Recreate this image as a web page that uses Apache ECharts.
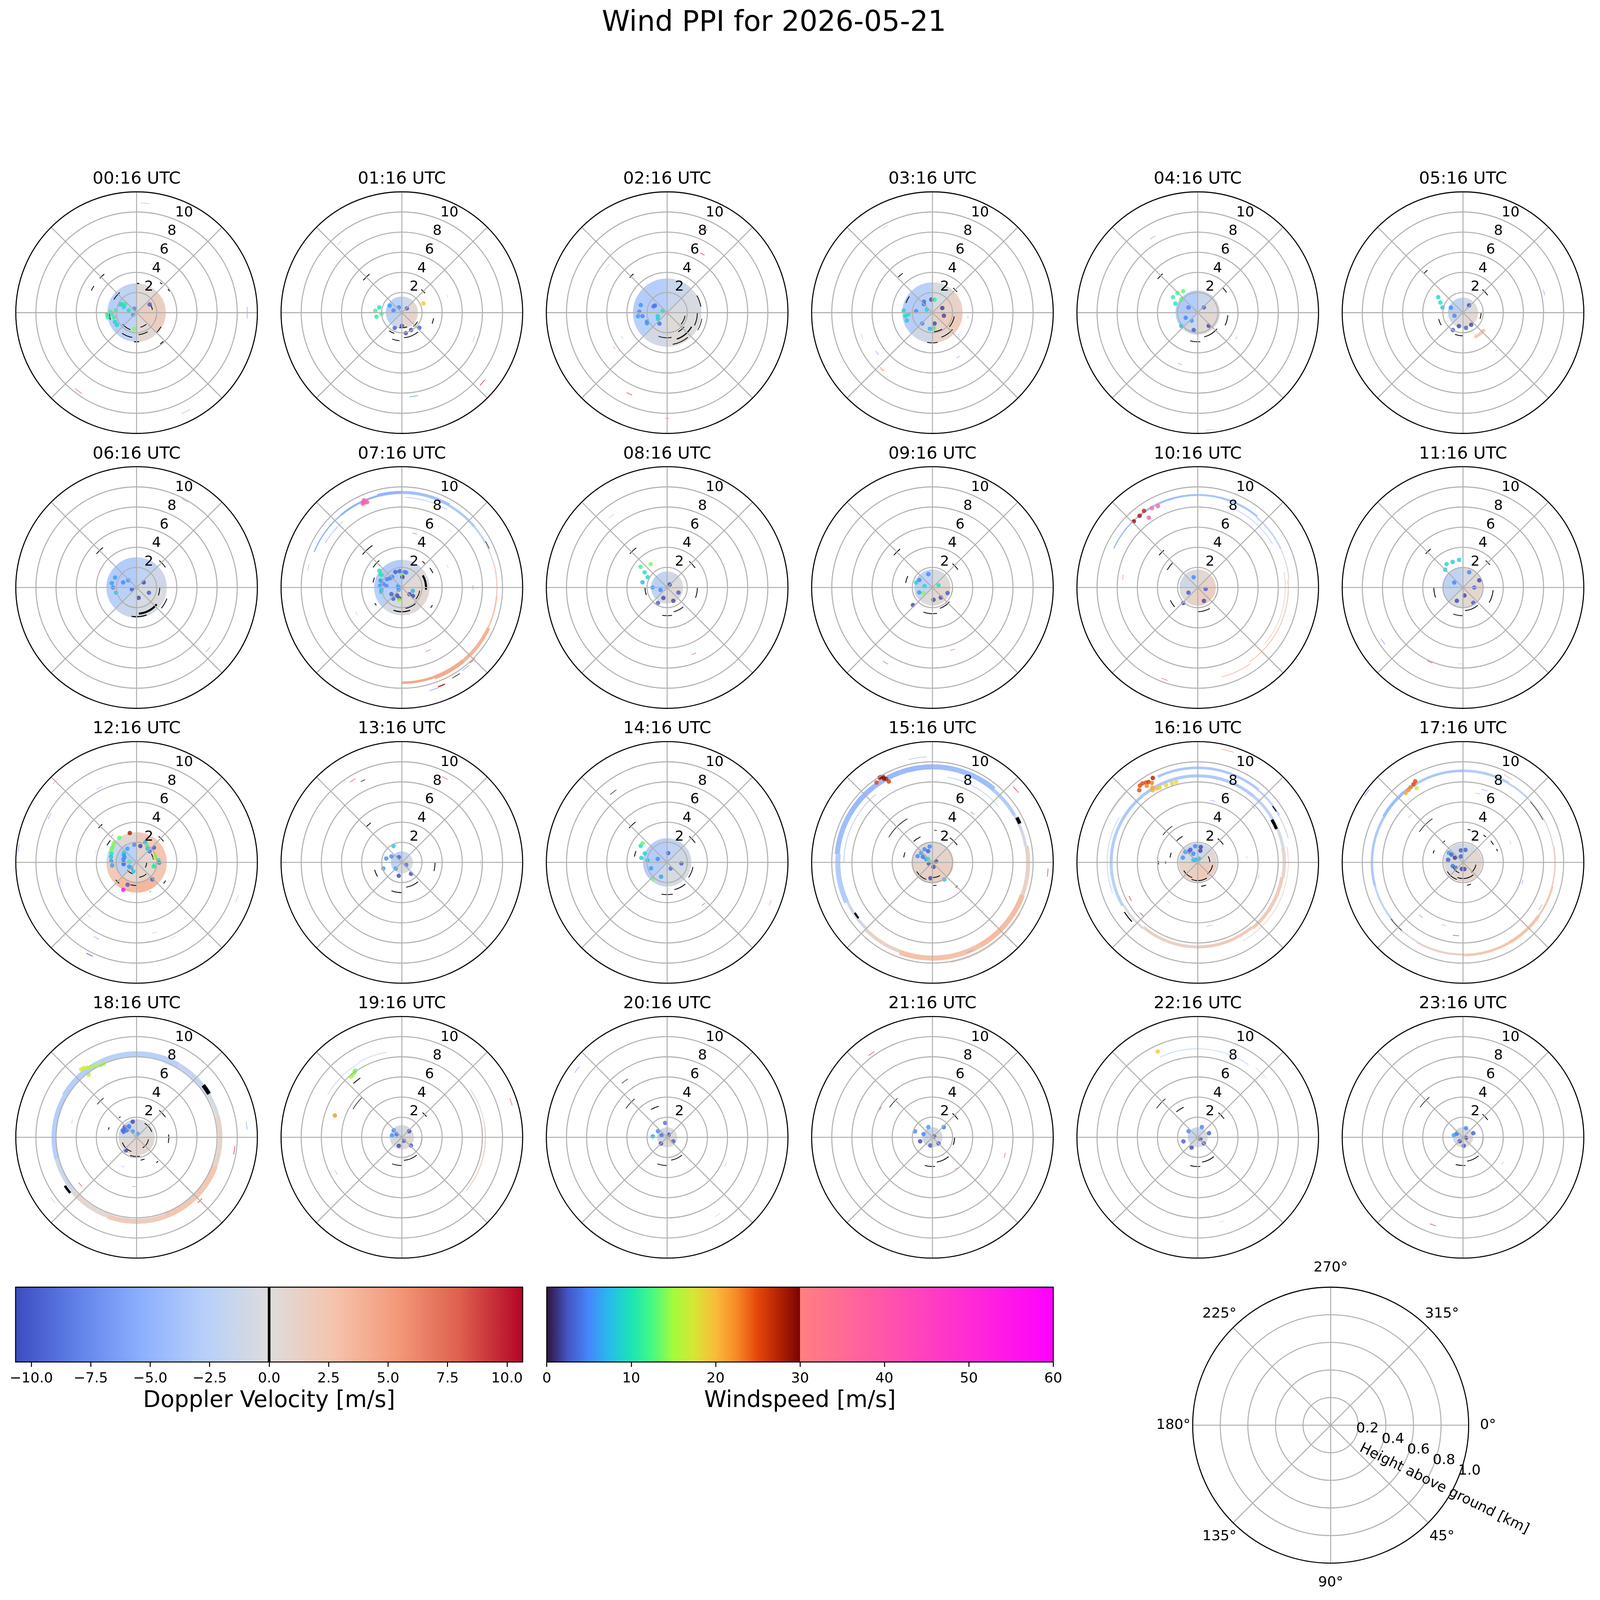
<!DOCTYPE html>
<html><head><meta charset="utf-8"><title>Wind PPI</title>
<script src="https://cdn.jsdelivr.net/npm/echarts@6.0.0/dist/echarts.min.js"></script>
<style>html,body{margin:0;padding:0;background:#fff;overflow:hidden;}#chart{width:100vw;height:100vh;}</style>
</head><body><div id="chart"></div>
<script>
// ---------------- DATA ----------------
const times = ['00:16','01:16','02:16','03:16','04:16','05:16','06:16','07:16','08:16','09:16','10:16','11:16',
  '12:16','13:16','14:16','15:16','16:16','17:16','18:16','19:16','20:16','21:16','22:16','23:16'];
const radialTicks = [2, 4, 6, 8, 10];
const refRadialTicks = [0.2, 0.4, 0.6, 0.8, 1.0];
const refAngleTicks = [0, 45, 90, 135, 180, 225, 270, 315];
const dopplerTicks = [-10, -7.5, -5, -2.5, 0, 2.5, 5, 7.5, 10];
const windTicks = [0, 10, 20, 30, 40, 50, 60];
const V_LIM = 10.66;

// core bands: [r0, r1, v(0-45), v(45-90), v(90-135), v(135-180), v(180-225), v(225-270), v(270-315), v(315-360)]
const coreBands = [
  [[0, 2.9, 0.3, 1.5, 1.5, 0.5, -2.0, -2.8, -2.8, -2.0]],
  [[0, 1.6, -1, 0.5, 1, 0.5, -1, -2.5, -3, -2.5]],
  [[0, 3.4, -1.5, -0.5, 0, 0.2, -0.8, -2.5, -3, -2.8]],
  [[0, 3.0, -0.5, 1.2, 1.8, 1.0, -1.0, -2.8, -3.0, -2.5]],
  [[0, 2.2, -1.5, 0, 0.5, 0.2, -1.0, -2.5, -3.2, -3.0]],
  [[0, 1.5, -1, 0, 0.5, 0.5, 0, -1.5, -2.5, -2]],
  [[0, 3.0, -2.0, -1.0, -0.3, -0.5, -1.5, -2.5, -3.0, -3.0]],
  [[0, 2.75, -1.0, 0.2, 0.5, 0.3, -0.5, -2.5, -3.0, -3.0]],
  [[0, 1.6, -1, 0, 0.5, 0.3, -0.5, -2, -2.5, -2]],
  [[0, 1.8, -0.5, 0.2, 0.8, 0.5, 0, -1.5, -2.5, -2.0]],
  [[0, 1.8, 0.5, 1, 1.5, 1.5, 1.0, 0, -1, -0.5]],
  [[0, 2.0, -0.5, 0.3, 0.8, 0.5, 0, -1.5, -2.3, -2]],
  [[0, 1.9, 1.0, 0.5, 0.5, 1.0, 0.8, -2.5, -3.0, -2.5], [1.9, 3.0, 2.0, 2.5, 2.3, 3.5, 3.2, 2.0, -1.0, 0.5]],
  [[0, 1.1, -1.5, -0.5, 0, 0, -0.5, -2, -2.5, -2.5]],
  [[0, 2.4, -2, -1, -0.5, -0.5, -1.5, -2.8, -3, -2.8]],
  [[0, 2.1, 0.5, 1.0, 1.5, 1.5, 1.2, 1.0, 0.3, -0.5]],
  [[0, 1.9, -1, 0.5, 1.5, 2, 1.5, 1, -0.5, -1.5]],
  [[0, 1.9, -0.5, 0.5, 0.8, 0.8, 0.5, 0, -0.5, -1]],
  [[0, 1.8, -0.5, 0, 0.5, 0.8, 0.5, 0.2, -0.8, -1]],
  [[0, 1.2, -0.5, 0, 0.3, 0.3, 0, -0.5, -1.5, -1]],
  [[0, 1.0, -0.5, 0, 0.3, 0.2, 0, -0.5, -1, -1]],
  [[0, 1.0, -1, -0.5, 0, 0, -0.5, -1, -1.5, -1.5]],
  [[0, 1.0, -1, -0.5, 0, 0, -0.5, -1, -1.5, -1.5]],
  [[0, 1.0, -0.5, 0, 0.3, 0.3, 0, -0.5, -1, -1]]
];

// Doppler arcs: [height km, azimuth start, azimuth end, velocity m/s, thickness km]
const ringArcs = [
  [[10.9,2,7,2.5,0.06],[11.0,87,93,-5,0.06],[9.7,214,219,6.5,0.06],[11.0,151,156,3,0.06],[5.0,16,20,-1,0.05]],
  [[10.6,129,133,9,0.06],[8.4,169,175,-6.5,0.06],[4.8,68,72,1,0.05],[9.3,316,320,-3,0.05],[7.6,108,112,4,0.05]],
  [[9.1,22,26,9,0.06],[6.8,29,33,8.5,0.06],[7.5,305,310,-3,0.05],[5.1,239,243,-3,0.05],[6.3,235,238,5,0.05],[8.9,203,207,8,0.06],[10.5,179,181,7,0.05],[4.1,136,140,3,0.05]],
  [[9.7,329,333,2.5,0.05],[6.4,313,316,2,0.05],[7.4,249,254,-3,0.05],[6.8,232,236,-6,0.05],[7.5,219,226,3,0.08],[7.6,220,223,7,0.04],[5.1,148,152,-6.5,0.05],[3.55,95,99,-5.5,0.05],[3.4,128,132,-5,0.05],[7.4,178,181,2,0.04]],
  [[8.7,327,331,-6,0.05],[5.4,197,201,7,0.05],[11.7,172,176,-3,0.05],[4.6,121,125,-5,0.05]],
  [[2.7,128,155,2.0,0.3],[8.3,74,78,-6,0.05],[5.0,137,140,5,0.05]],
  [[9.9,27,31,-6,0.05],[6.0,138,142,8,0.05],[9.4,129,133,-6,0.05]],
  [[9.4,292,320,-5.2,0.12],[9.4,320,345,-5.0,0.2],[9.45,345,360,-5.0,0.3],[9.45,0,30,-4.0,0.3],[9.4,30,50,-3.2,0.25],[9.4,50,62,-2.0,0.2],[9.4,62,75,-0.8,0.12],[9.45,75,95,1.5,0.12],[9.45,95,115,2.8,0.15],[9.5,115,140,3.8,0.35],[9.5,140,160,4.3,0.4],[9.45,160,180,4.5,0.25],[8.95,2,30,-4.0,0.06],[8.8,300,318,-4.5,0.06],[10.5,156,160,9.5,0.12],[10.6,160,165,-6,0.06],[10.2,139,144,-7,0.05],[10.1,134,138,9.5,0.05],[7.4,38,42,2,0.05],[5.5,11,16,-7.5,0.05],[9.5,280,284,-3.5,0.05],[6.1,270,274,-4,0.05],[5.2,238,242,-4,0.05],[5.0,63,67,-3,0.05],[7.06,88,92,-6,0.05],[6.8,155,160,7,0.05]],
  [[7.1,156,160,8,0.05],[9.0,320,324,-3,0.05]],
  [[8.8,210,214,-7,0.05],[6.5,160,164,8,0.05]],
  [[9.2,295,320,-4.5,0.12],[9.2,320,360,-4.0,0.2],[9.2,0,40,-3.5,0.2],[9.1,40,65,-2.0,0.15],[9.1,65,85,-0.5,0.1],[9.0,85,115,1.5,0.1],[9.0,115,145,3.0,0.08],[9.2,145,165,4.0,0.06],[8.6,20,60,-3,0.06],[8.7,80,130,2,0.06],[9.7,198,202,7,0.05],[7.5,276,280,6,0.05],[11.5,133,137,3,0.05]],
  [[9.6,234,238,-6.5,0.05],[8.1,202,206,8,0.05],[7.6,180,184,2,0.05]],
  [[2.05,240,330,-4,0.15],[11.4,313,317,3,0.06],[8.3,331,336,-4,0.05],[9.8,296,300,-6,0.05],[11.8,275,279,-7,0.05],[5.8,281,285,2,0.05],[7.8,255,259,-5.5,0.05],[3.6,316,320,8,0.05],[3.2,153,157,9,0.05],[7.1,220,224,3,0.05],[8.5,206,210,-6.5,0.05],[10.3,205,209,-10,0.06],[7.2,164,168,2.5,0.05],[8.3,152,156,1.5,0.05],[10.6,108,112,-3,0.05],[4.2,283,287,-3,0.04]],
  [[9.5,327,331,8,0.05],[9.4,25,29,8,0.05],[7.8,88,92,-3,0.05]],
  [[5.5,137,141,8,0.05],[11.0,110,113,6,0.04],[8.0,232,235,-4,0.04]],
  [[9.5,300,340,-4.5,0.5],[9.5,340,360,-4.5,0.5],[9.5,0,40,-4.2,0.5],[9.4,40,60,-3.0,0.35],[9.4,60,80,-0.8,0.3],[9.5,80,110,1.2,0.4],[9.5,110,150,3.2,0.5],[9.5,150,200,2.8,0.5],[9.4,200,225,1.2,0.35],[9.3,225,245,-1.0,0.3],[9.4,245,275,-3.0,0.5],[9.5,275,300,-4.2,0.5],[8.6,10,50,-3.5,0.06],[8.8,270,320,-4,0.06],[10.1,120,170,3,0.06],[10.5,347,357,-4,0.06],[11.0,47,51,9.5,0.05],[6.3,37,41,8,0.05],[11.5,93,97,9.5,0.05],[9.6,155,159,-7,0.05],[6.4,40,44,-0.5,0.04]],
  [[9.4,335,360,-3.5,0.25],[9.4,0,40,-3.3,0.25],[9.35,40,60,-2.2,0.2],[9.3,60,75,-1.0,0.1],[8.6,300,340,-3.3,0.3],[8.6,340,360,-3.3,0.3],[8.6,0,40,-3.2,0.3],[8.6,40,60,-2.0,0.3],[8.6,60,80,-0.5,0.3],[8.6,80,100,0.6,0.35],[8.5,100,140,1.8,0.35],[8.4,140,180,2.0,0.3],[8.4,180,220,1.2,0.3],[8.5,220,240,0,0.25],[8.6,240,270,-2.5,0.3],[8.6,270,300,-3.0,0.3],[9.0,250,300,-3,0.06],[9.9,300,315,-3,0.05],[9.0,80,150,1.5,0.06],[11.5,12,18,6,0.05],[7.6,240,244,10,0.05],[7.6,225,229,10,0.05],[6.3,11,16,-6,0.04],[7.8,43,47,-8,0.04],[4.9,214,219,-5,0.04],[6.4,167,172,-5.5,0.04],[4.9,82,86,-4,0.04],[6.2,101,105,-5,0.04],[4.1,93,97,1.5,0.04]],
  [[9.1,300,330,-4.3,0.3],[9.1,330,360,-3.5,0.25],[9.1,0,30,-3.0,0.25],[9.05,30,45,-2.0,0.2],[9.05,45,60,-1.0,0.15],[9.1,60,80,0.4,0.12],[9.15,80,105,1.5,0.15],[9.2,105,125,2.2,0.2],[9.2,125,150,2.8,0.3],[9.2,150,180,2.3,0.25],[9.15,180,210,1.2,0.2],[9.1,210,230,0.0,0.15],[9.05,230,255,-1.8,0.2],[9.05,255,300,-3.3,0.25],[9.6,25,31,4,0.05],[7.5,14,19,-7,0.04],[7.0,10,14,-5.5,0.04],[11.8,304,308,-8,0.05],[7.0,309,313,6,0.04],[5.1,65,69,6,0.04],[6.2,106,110,-7,0.04],[8.9,118,122,-7,0.04],[6.8,216,220,-8,0.04],[6.5,195,199,-5,0.04],[7.3,183,188,9,0.05]],
  [[8.3,330,360,-2.5,0.5],[8.3,0,30,-2.5,0.5],[8.3,30,60,-1.8,0.45],[8.3,60,75,-0.5,0.4],[8.3,75,110,1.0,0.45],[8.3,110,160,2.3,0.55],[8.35,160,200,1.8,0.5],[8.3,200,230,0.5,0.45],[8.2,230,255,-1.2,0.45],[8.2,255,300,-2.8,0.5],[8.3,300,330,-2.8,0.5],[7.9,20,50,-2,0.05],[9.8,95,100,10,0.05],[8.9,133,137,10,0.05],[7.3,228,232,8.5,0.05],[4.0,127,133,8,0.04],[4.9,181,185,8,0.04],[11.0,82,86,-6,0.05],[10.4,231,235,-3,0.05],[6.6,282,286,-4,0.04],[3.2,203,207,-7,0.04]],
  [[8.3,55,80,0.5,0.08],[8.3,80,110,1.5,0.1],[8.3,110,130,2.0,0.08],[8.5,300,330,-2.5,0.06],[8.6,330,350,-2.8,0.06],[11.4,70,74,8,0.05],[7.4,240,244,-6,0.04],[10.0,146,150,-3,0.04]],
  [[11.2,305,309,-6,0.05],[6.4,113,117,5,0.04],[9.2,145,149,-2,0.04]],
  [[10.3,322,326,9,0.05],[5.9,297,301,9,0.04],[3.9,141,145,8,0.04],[8.0,210,214,9,0.04],[7.4,102,106,9,0.04]],
  [[8.8,335,360,-3,0.06],[8.8,0,35,-2.5,0.06],[9.0,40,50,-1,0.05],[11.6,110,114,-4,0.04],[8.7,162,166,-2,0.04],[8.0,234,238,6,0.04]],
  [[9.2,197,201,9,0.05],[5.9,149,153,-6,0.04],[7.2,316,320,-3,0.04],[4.7,121,125,-5,0.04]]
];

// masked (black) arcs: [height km, azimuth start, azimuth end, thickness km]
const blackArcs = [
  [[5.0,313,320,0.08],[5.0,296,302,0.08],[2.9,0,5,0.1],[3.8,38,42,0.08],[3.9,53,57,0.08],[3.9,137,143,0.08],[2.2,150,175,0.08],[2.5,190,215,0.08],[1.8,200,230,0.08],[2.8,120,135,0.08],[2.0,100,115,0.08],[2.6,300,320,0.08],[1.6,60,80,0.08],[2.9,175,185,0.1],[2.7,255,270,0.08],[1.5,140,165,0.08]],
  [[2.5,140,175,0.08],[2.8,185,200,0.08],[1.8,120,140,0.08],[3.2,100,110,0.08],[2.2,200,215,0.08],[5.0,310,320,0.08],[3.0,40,50,0.08],[1.5,160,190,0.08]],
  [[5.1,313,319,0.08],[2.8,120,160,0.12],[3.2,140,170,0.08],[2.5,170,200,0.08],[3.0,90,115,0.08],[3.4,60,80,0.08],[2.2,130,150,0.08],[1.8,100,130,0.08],[2.0,160,185,0.08],[3.5,100,120,0.06]],
  [[4.9,316,323,0.08],[3.2,40,50,0.08],[2.6,130,160,0.08],[3.0,170,190,0.08],[2.2,100,130,0.08],[2.8,290,305,0.08],[1.9,150,175,0.08]],
  [[2.5,130,165,0.08],[2.9,175,195,0.08],[3.0,95,115,0.08],[3.5,45,55,0.08],[5.2,310,318,0.08],[2.0,200,220,0.08]],
  [[2.0,150,175,0.08],[1.8,90,110,0.08],[3.0,40,55,0.08],[2.5,240,255,0.08],[5.5,315,320,0.08],[2.3,180,200,0.08]],
  [[2.6,130,175,0.2],[2.9,160,190,0.1],[3.2,110,130,0.08],[2.3,90,110,0.08],[5.2,310,320,0.08],[3.5,40,55,0.08],[2.0,180,210,0.08]],
  [[5.1,310,325,0.08],[3.5,305,320,0.08],[2.9,280,290,0.08],[3.1,235,240,0.08],[2.4,60,95,0.2],[3.3,38,44,0.08],[3.4,55,65,0.08],[3.5,120,125,0.08],[2.4,160,200,0.1],[2.1,140,170,0.08],[10.3,146,151,0.05],[9.5,61,66,0.05],[1.8,100,130,0.08]],
  [[5.0,312,322,0.08],[2.5,140,165,0.08],[2.8,170,190,0.08],[3.0,90,110,0.08],[3.4,40,55,0.08],[2.2,250,270,0.08],[8.0,318,322,0.05]],
  [[2.2,130,160,0.08],[2.6,170,200,0.08],[3.1,40,55,0.08],[5.0,310,320,0.08],[2.7,280,295,0.08],[2.0,90,110,0.08]],
  [[3.5,300,315,0.08],[2.4,150,180,0.08],[2.0,90,120,0.08],[5.0,310,318,0.08],[3.0,230,245,0.08]],
  [[2.3,140,175,0.08],[2.8,180,200,0.08],[3.0,95,120,0.08],[5.0,312,320,0.08],[2.9,250,270,0.08],[3.5,40,50,0.08]],
  [[5.1,312,318,0.08],[3.4,300,310,0.08],[3.4,40,52,0.08],[3.4,122,128,0.08],[2.7,220,230,0.08],[1.5,140,170,0.08],[1.2,200,230,0.08],[1.0,90,120,0.08],[1.7,60,80,0.08],[2.3,180,195,0.08]],
  [[2.5,140,170,0.08],[3.0,180,200,0.08],[3.3,90,105,0.08],[5.0,315,322,0.08],[2.8,240,255,0.08],[9.0,333,336,0.05]],
  [[2.8,140,165,0.08],[3.2,170,190,0.08],[2.6,100,125,0.08],[5.1,312,322,0.08],[3.4,40,55,0.08],[3.3,280,290,0.08],[8.8,320,325,0.05]],
  [[9.5,62,66,0.35],[9.2,233,237,0.2],[5.0,300,330,0.06],[2.9,280,290,0.08],[2.8,318,335,0.08],[3.0,35,55,0.08],[3.4,133,137,0.08],[2.3,170,178,0.08],[3.2,3,8,0.06],[1.8,200,240,0.08],[2.0,100,130,0.08],[1.5,150,180,0.08]],
  [[8.5,60,67,0.3],[9.3,53,57,0.1],[8.8,228,236,0.1],[4.4,308,325,0.06],[3.0,315,330,0.08],[2.8,280,290,0.08],[3.2,268,272,0.08],[3.9,267,272,0.08],[3.1,40,55,0.08],[2.4,160,172,0.08],[1.5,100,140,0.08],[1.8,150,200,0.08],[1.2,60,90,0.08],[1.6,200,240,0.08]],
  [[5.3,305,325,0.06],[2.8,313,320,0.08],[3.1,287,293,0.08],[3.3,8,13,0.08],[3.4,37,42,0.08],[3.5,52,60,0.08],[3.6,68,72,0.08],[2.3,160,170,0.08],[9.0,48,62,0.05],[9.1,222,232,0.05],[1.6,140,200,0.08],[1.3,100,140,0.08],[1.8,200,240,0.08],[1.1,200,250,0.08]],
  [[8.4,52,59,0.4],[8.6,230,236,0.25],[5.1,310,320,0.06],[2.9,285,290,0.08],[2.6,318,322,0.08],[3.5,40,55,0.08],[3.2,85,100,0.08],[2.3,160,170,0.08],[3.2,138,142,0.08],[1.5,200,250,0.08],[1.2,100,150,0.08],[1.6,30,70,0.08],[1.9,170,200,0.08]],
  [[2.3,140,175,0.08],[2.8,180,200,0.08],[2.0,90,110,0.08],[5.6,300,315,0.06],[3.2,40,50,0.08],[7.2,318,325,0.08]],
  [[5.0,305,320,0.06],[3.2,330,345,0.08],[2.3,140,170,0.08],[2.8,180,200,0.08],[2.0,95,115,0.08],[7.0,320,326,0.05]],
  [[5.2,305,318,0.06],[2.5,140,170,0.08],[2.9,175,195,0.08],[3.1,40,55,0.08],[2.2,90,110,0.08]],
  [[5.0,305,320,0.06],[3.3,320,335,0.08],[2.5,140,170,0.08],[2.9,175,195,0.08],[3.2,40,55,0.08]],
  [[5.2,305,320,0.06],[2.4,140,170,0.08],[2.8,175,195,0.08],[3.0,40,55,0.08],[2.0,90,110,0.08]]
];

// windspeed dots: [height km, azimuth, windspeed m/s]
const windDots = [
  [[1.44,308,11],[1.39,294,9],[1.84,296,9],[2.08,276,12],[2.51,268,11],[2.94,267,11],[2.89,261,11],[2.29,259,12],[2.34,247,9],[2.3,238,9],[0.81,286,10],[0.45,330,5],[0.4,240,6],[1.53,58,3],[1.63,189,14],[2.6,272,12],[1.7,300,10]],
  [[2.65,274,12],[2.55,261,11],[2.3,283,10],[2.03,267,12],[1.4,300,6],[0.85,284,5],[0.6,330,5],[0.65,50,3],[2.33,67,19],[1.32,180,2],[1.95,152,2],[2.3,131,3],[1.68,205,3],[2.07,169,2]],
  [[2.77,272,5],[2.73,286,5.5],[2.27,242,6],[2.2,246,6],[1.5,294,5],[1.4,300,4],[1.1,236,9],[1.0,250,9],[0.48,288,10],[2.92,263,6],[2.47,262,5],[1.33,215,4]],
  [[2.86,274,9],[2.7,263,9],[2.66,253,8],[2.4,266,10],[1.63,275,5],[1.38,322,4],[1.2,315,4],[0.63,299,9],[1.31,9.5,11],[1.3,355,2],[1.08,65,1.5],[1.18,105,2],[1.1,169,2],[1.54,175,12],[1.62,189,7],[1.48,223,5]],
  [[2.9,302,11],[2.8,314,12],[2.1,309,13],[2.4,292,10],[2.57,326,13],[1.3,247,5],[1.0,217,6],[1.05,299,5],[0.8,50,3],[1.7,140,2],[1.78,193,3],[2.1,231,8]],
  [[2.9,302,9],[2.46,294,10],[2.1,284,8],[1.3,292,5],[0.9,250,5],[1.4,197,2],[1.55,169,3],[1.46,146,2],[2.0,210,3],[0.94,40,2]],
  [[2.36,295,6],[2.34,270,5],[2.1,256,8],[1.43,291,5],[1.1,311,6],[0.5,250,3],[0.87,54,2],[1.04,169,2],[1.33,113,3],[2.5,280,6]],
  [[9.32,335.7,38],[9.21,337,37],[9.45,336.5,38],[9.18,335,39],[9.16,337.9,36],[2.79,306.8,10],[2.48,301.8,10],[2.35,302,11],[2.22,287.9,5.5],[2.17,275,6],[2.04,264,7],[2.1,258,8],[1.89,281.6,5],[1.55,276,5],[1.69,299.4,5],[1.5,308,5],[1.41,317.6,5],[1.67,337.4,3],[1.64,352.7,3],[1.56,10,4.5],[1.55,16,4.5],[1.22,3,15],[1.04,3,1.5],[0.35,270,5],[0.38,235,6],[0.4,290,6.5],[1.23,237.6,3],[0.92,210.7,2],[1.4,217.4,3],[1.1,193,2],[1.29,191.6,15],[1.0,131.7,2],[1.38,127.6,2],[1.14,107.3,7]],
  [[3.35,308,12],[2.7,304,10],[2.2,298,9],[2.85,325,14],[2.5,282,7],[1.45,270,6],[0.7,250,5],[0.4,40,2],[1.1,200,2],[1.45,155,2],[1.23,114,3],[1.78,211,3]],
  [[1.7,287,9],[1.5,300,5],[0.8,280,9],[1.05,240,14],[0.65,70,10],[1.4,250,6],[1.22,175,2],[1.3,140,2],[1.6,110,3],[2.6,228,2],[1.39,343,5]],
  [[9.14,316,29],[9.17,321,28],[9.3,325,27],[9.1,330,36],[9.0,334,37],[8.47,325,38],[1.05,241,3],[1.46,155,2],[1.1,338,5],[2.1,223,2],[0.8,100,3]],
  [[2.85,325,9],[2.75,338,8],[2.78,352,9],[2.5,315,8],[1.64,22,5],[1.12,90,3],[0.8,170,2],[1.45,205,2],[1.83,146,3],[1.77,66,2],[1.0,300,5]],
  [[3.0,347,28],[2.99,325,13],[2.96,312,14],[2.9,308,14],[2.83,301,13],[2.75,295,14],[2.65,289,10],[2.6,282,8],[2.51,273,6],[2.44,263,6],[1.58,307,9],[1.45,300,6],[1.3,293,6],[1.35,283,5],[1.28,268,4],[1.3,262,4],[0.85,240,6],[0.75,225,6],[0.95,200,8],[0.7,275,12],[1.64,326,6],[1.78,353,5],[1.67,13,2],[2.17,23.5,7],[2.0,30,13],[1.75,38,8],[1.7,50,4],[2.27,49.6,3],[1.98,67,16],[1.9,75,15],[2.18,84,10],[2.25,91,5],[1.8,96,14],[1.75,103,10],[2.3,137,3],[2.38,202,3],[3.03,206,58]],
  [[1.6,284,5],[1.2,300,5],[0.86,225,6],[0.6,330,3],[0.5,120,4],[1.45,141,2],[1.36,193,2],[1.93,252,6],[1.82,333,8]],
  [[3.1,302,10],[2.4,292,9],[3.1,308,13],[1.95,276,8],[2.15,221,14],[1.7,250,6],[1.0,290,5],[0.93,6,3],[0.7,150,4],[1.42,94,3],[1.54,203,6],[2.6,280,9]],
  [[9.92,328,28],[9.69,325,25],[9.82,330,29],[9.49,331,27],[9.13,331.7,26],[9.9,329,29],[9.6,330,29],[1.6,350,5],[1.52,329,5],[1.47,310,6],[1.6,293,5],[1.1,300,4],[1.2,339,3],[0.7,297,5],[0.37,250,2],[0.37,72,2],[0.46,168,2],[1.58,187,2],[2.07,145,8],[0.55,310,11]],
  [[9.23,321,25],[9.55,323,25],[9.58,325,25],[9.46,327,25],[9.37,328.6,26],[9.5,332,28],[9.14,326.4,23],[9.12,330,23],[8.7,328.8,21],[8.45,328,21],[8.4,331,20],[8.33,333,19],[8.29,337.7,18.5],[8.23,342,18.5],[8.28,345,18],[1.63,351,5],[1.56,11,2],[1.62,310,6],[1.4,320,4],[1.45,330,3],[1.55,288,5.5],[0.97,333,5],[1.19,13,2],[0.5,300,8],[0.35,320,8],[0.4,20,8],[0.2,330,7]],
  [[9.36,329.5,25],[9.2,327.6,25],[9.1,325,23],[9.0,323,22],[8.94,320.5,21],[8.7,328,16],[1.7,304,6],[1.5,280,3],[0.93,300,1.5],[1.22,350,3],[1.27,11,3],[0.63,341,3],[1.08,251,4],[0.9,235,4],[0.66,190,2],[0.67,168,2],[1.38,304,3]],
  [[8.7,320.8,17.5],[8.66,322.7,17],[8.48,324.7,16.5],[8.36,327,16],[8.2,329.9,15.5],[8.03,333.4,15],[8.0,336,15],[7.84,322.6,15],[1.6,346,2],[1.35,326,5],[1.25,323,5],[1.55,311,3],[1.52,297,3],[1.4,293,4],[1.2,305,4],[0.7,327,6],[0.36,19,6],[1.67,219,2]],
  [[7.9,322,15],[8.0,324,14],[7.85,320,15],[8.1,325,14],[7.0,288,22],[1.07,311,5],[0.6,300,4],[0.4,150,3],[0.94,50,2],[0.9,200,2],[1.22,132,3],[1.0,280,6]],
  [[1.1,304,5],[0.6,290,4],[0.3,30,2],[0.73,124,3],[0.87,225,2],[1.43,274,6],[1.44,352,4]],
  [[0.95,290,5],[1.1,338,6],[0.2,60,2],[0.86,135,3],[1.28,252,2],[0.84,194,3],[1.83,289,5],[1.51,48,4]],
  [[9.4,335,19],[1.1,304,5],[1.1,22,5],[0.3,120,2],[1.19,70,3],[1.19,211,2],[0.86,135,3],[1.48,254,3]],
  [[0.7,300,4],[0.96,18,5],[0.3,100,2],[0.5,220,2],[1.1,68,3],[0.85,175,3],[0.94,283,6]]
];

// ---------------- COLORMAPS ----------------
const coolwarmStops = ['#3b4cc0','#6282ea','#8db0fe','#b8d0f9','#dddcdc','#f5c4ad','#f49a7b','#de604d','#b40426'];
const turboStops = ['#30123b','#4454c4','#4686fb','#28bceb','#1ae4b6','#46f884','#a2fc3c','#d7e535','#fabb39','#f78a27','#e4460a','#b52203','#7a0403'];
const springStops = ['#ff8080','#ff00ff'];
function hexToRgb(h){return [parseInt(h.slice(1,3),16),parseInt(h.slice(3,5),16),parseInt(h.slice(5,7),16)];}
function sampleStops(stops, t){
  t = Math.max(0, Math.min(1, t));
  const n = stops.length - 1, x = t * n, i = Math.min(n - 1, Math.floor(x)), f = x - i;
  const a = hexToRgb(stops[i]), b = hexToRgb(stops[i + 1]);
  return 'rgb(' + a.map((c, k) => Math.round(c + (b[k] - c) * f)).join(',') + ')';
}
function velColor(v){ return sampleStops(coolwarmStops, (v + V_LIM) / (2 * V_LIM)); }
function wsColor(w){ return w < 30 ? sampleStops(turboStops, w / 30) : sampleStops(springStops, (w - 30) / 30); }

// ---------------- LAYOUT (designed on a 7878 x 7907 canvas, scaled to the window) ----------------
const S = Math.min(window.innerWidth / 7878, window.innerHeight / 7907);
const px = v => v * S;
const FONT = 'DejaVu Sans';
const N_COLS = 6;
const PLOT_X0 = 675, PLOT_DX = 1311, PLOT_Y0 = 1545, PLOT_DY = 1358.5, PLOT_R = 597;
const TITLE_TOP0 = 843;
const REF_CENTER = [6576, 7043], REF_R = 682;
const R_MAX = 12, RLABEL_ANGLE = 22.5, REF_RLABEL_ANGLE = 22.5, REF_ALABEL_R = 1.14;
const GRID_COLOR = '#b0b0b0', LW = 5;
const FS_TICK = 70, FS_TITLE = 84, FS_SUPTITLE = 140, FS_CBLABEL = 112;

function plotCenter(i){ return [px(PLOT_X0 + (i % N_COLS) * PLOT_DX), px(PLOT_Y0 + Math.floor(i / N_COLS) * PLOT_DY)]; }

function renderSector(params, api){
  const cs = params.coordSys;
  const r0 = api.value(0), r1 = api.value(1), a0 = api.value(2), a1 = api.value(3), v = api.value(4), kind = api.value(5);
  const pIn = api.coord([r0, a0]), pS = api.coord([r1, a0]), pE = api.coord([r1, a1]);
  const R0 = Math.hypot(pIn[0] - cs.cx, pIn[1] - cs.cy), R1 = Math.hypot(pS[0] - cs.cx, pS[1] - cs.cy);
  let s = Math.atan2(pS[1] - cs.cy, pS[0] - cs.cx), e = Math.atan2(pE[1] - cs.cy, pE[0] - cs.cx);
  while (e <= s + 1e-9) e += 2 * Math.PI;
  return {type: 'sector', shape: {cx: cs.cx, cy: cs.cy, r0: R0, r: R1, startAngle: s, endAngle: e, clockwise: true},
    style: {fill: kind === 1 ? '#000000' : velColor(v)}};
}
function textRenderer(textOf, align, valign, size){
  return function(params, api){
    const p = api.coord([api.value(0), api.value(1)]);
    return {type: 'text', x: p[0], y: p[1], style: {text: textOf(api), fontSize: px(size), fontFamily: FONT, fill: '#000', align: align, verticalAlign: valign}};
  };
}
function polarAxes(idx, startAngle, rMax, rInterval){
  angleAxis.push({polarIndex: idx, type: 'value', min: 0, max: 360, interval: 45, startAngle: startAngle, clockwise: true, z: 5,
    axisLine: {show: true, lineStyle: {color: '#000', width: px(LW)}}, axisTick: {show: false}, axisLabel: {show: false},
    splitLine: {show: true, lineStyle: {color: GRID_COLOR, width: px(LW)}}});
  radiusAxis.push({polarIndex: idx, type: 'value', min: 0, max: rMax, interval: rInterval, z: 4,
    axisLine: {show: false}, axisTick: {show: false}, axisLabel: {show: false},
    splitLine: {show: true, lineStyle: {color: GRID_COLOR, width: px(LW)}}});
}

const polar = [], angleAxis = [], radiusAxis = [], series = [], titles = [];
titles.push({text: 'Wind PPI for 2026-05-21', left: px(3825), top: px(46), textAlign: 'center', padding: 0,
  textStyle: {fontSize: px(FS_SUPTITLE), fontWeight: 'normal', fontFamily: FONT, color: '#000'}});

for (let i = 0; i < times.length; i++){
  const c = plotCenter(i);
  polar.push({center: c, radius: px(PLOT_R)});
  polarAxes(i, 90, R_MAX, 2);
  titles.push({text: times[i] + ' UTC', left: c[0], top: px(TITLE_TOP0 + Math.floor(i / N_COLS) * PLOT_DY), textAlign: 'center', padding: 0,
    textStyle: {fontSize: px(FS_TITLE), fontWeight: 'normal', fontFamily: FONT, color: '#000'}});
  const items = [];
  coreBands[i].forEach(b => { for (let k = 0; k < 8; k++) items.push([b[0], b[1], 45 * k, 45 * (k + 1), b[2 + k], 0]); });
  ringArcs[i].forEach(a => items.push([a[0] - a[4] / 2, a[0] + a[4] / 2, a[1], a[2], a[3], 0]));
  blackArcs[i].forEach(a => items.push([a[0] - a[3] / 2, a[0] + a[3] / 2, a[1], a[2], 0, 1]));
  series.push({type: 'custom', coordinateSystem: 'polar', polarIndex: i, z: 1, silent: true, data: items, renderItem: renderSector});
  series.push({type: 'scatter', coordinateSystem: 'polar', polarIndex: i, z: 2, silent: true, symbol: 'circle', symbolSize: px(22),
    data: windDots[i].map(d => ({value: [d[0], d[1]], itemStyle: {color: wsColor(d[2])}}))});
  series.push({type: 'custom', coordinateSystem: 'polar', polarIndex: i, z: 10, silent: true,
    data: radialTicks.map(t => [t, RLABEL_ANGLE]), renderItem: textRenderer(api => String(api.value(0)), 'left', 'bottom', FS_TICK)});
}

// reference polar (orientation legend)
const REF = times.length;
polar.push({center: [px(REF_CENTER[0]), px(REF_CENTER[1])], radius: px(REF_R)});
polarAxes(REF, 0, 1, 0.2);
series.push({type: 'custom', coordinateSystem: 'polar', polarIndex: REF, z: 10, silent: true,
  data: refRadialTicks.map(t => [t, REF_RLABEL_ANGLE]), renderItem: textRenderer(api => api.value(0).toFixed(1), 'left', 'bottom', FS_TICK)});
series.push({type: 'custom', coordinateSystem: 'polar', polarIndex: REF, z: 10, silent: true,
  data: refAngleTicks.map(a => [REF_ALABEL_R, a]), renderItem: textRenderer(api => api.value(1) + '\u00b0', 'center', 'middle', FS_TICK)});

// colorbars
const dopplerGradient = coolwarmStops.map((c, k) => ({offset: k / (coolwarmStops.length - 1), color: c}));
const windGradient = turboStops.map((c, k) => ({offset: 0.5 * k / (turboStops.length - 1), color: c}))
  .concat([{offset: 0.5, color: springStops[0]}, {offset: 1, color: springStops[1]}]);
function barRenderer(stops){
  return function(params, api){
    const a = api.coord([api.value(0), api.value(1)]), b = api.coord([api.value(2), api.value(3)]);
    return {type: 'rect', shape: {x: a[0], y: b[1], width: b[0] - a[0], height: a[1] - b[1]},
      style: {fill: new echarts.graphic.LinearGradient(0, 0, 1, 0, stops), stroke: '#000', lineWidth: px(LW)}};
  };
}
series.push({type: 'custom', coordinateSystem: 'cartesian2d', xAxisIndex: 0, yAxisIndex: 0, z: 2, silent: true,
  data: [[-V_LIM, 0, V_LIM, 1]], renderItem: barRenderer(dopplerGradient)});
series.push({type: 'custom', coordinateSystem: 'cartesian2d', xAxisIndex: 0, yAxisIndex: 0, z: 3, silent: true,
  data: [[0, 0, 0, 1]], renderItem: function(params, api){
    const a = api.coord([api.value(0), api.value(1)]), b = api.coord([api.value(2), api.value(3)]);
    return {type: 'line', shape: {x1: a[0], y1: a[1], x2: b[0], y2: b[1]}, style: {stroke: '#000', lineWidth: px(13)}};
  }});
series.push({type: 'custom', coordinateSystem: 'cartesian2d', xAxisIndex: 1, yAxisIndex: 1, z: 2, silent: true,
  data: [[0, 0, 60, 1]], renderItem: barRenderer(windGradient)});

function fmtDoppler(v){ return (v < 0 ? '\u2212' : '') + Math.abs(v).toFixed(1); }
function cbAxis(idx, min, max, ticks, fmt, name){
  return {gridIndex: idx, type: 'value', min: min, max: max,
    axisLine: {show: false}, splitLine: {show: false},
    axisTick: {show: true, length: px(24), lineStyle: {color: '#000', width: px(LW)}, customValues: ticks},
    axisLabel: {show: true, customValues: ticks, formatter: fmt, fontSize: px(FS_TICK), fontFamily: FONT, color: '#000', margin: px(48)},
    name: name, nameLocation: 'middle', nameGap: px(138), nameTextStyle: {fontSize: px(FS_CBLABEL), fontFamily: FONT, color: '#000'}};
}

const option = {
  animation: false,
  backgroundColor: '#ffffff',
  textStyle: {fontFamily: FONT},
  title: titles,
  polar: polar,
  angleAxis: angleAxis,
  radiusAxis: radiusAxis,
  grid: [{left: px(77), top: px(6361), width: px(2506), height: px(370)}, {left: px(2702), top: px(6361), width: px(2503), height: px(370)}],
  xAxis: [cbAxis(0, -V_LIM, V_LIM, dopplerTicks, fmtDoppler, 'Doppler Velocity [m/s]'),
          cbAxis(1, 0, 60, windTicks, v => String(v), 'Windspeed [m/s]')],
  yAxis: [{gridIndex: 0, type: 'value', min: 0, max: 1, show: false}, {gridIndex: 1, type: 'value', min: 0, max: 1, show: false}],
  graphic: [{type: 'text', x: px(7137), y: px(7358), rotation: -26.3 * Math.PI / 180, z: 10,
    style: {text: 'Height above ground [km]', fontSize: px(FS_TICK), fontFamily: FONT, fill: '#000', align: 'center', verticalAlign: 'middle'}}],
  series: series
};
const chart = echarts.init(document.getElementById('chart'), null, {renderer: 'canvas'});
chart.setOption(option);
</script></body></html>
